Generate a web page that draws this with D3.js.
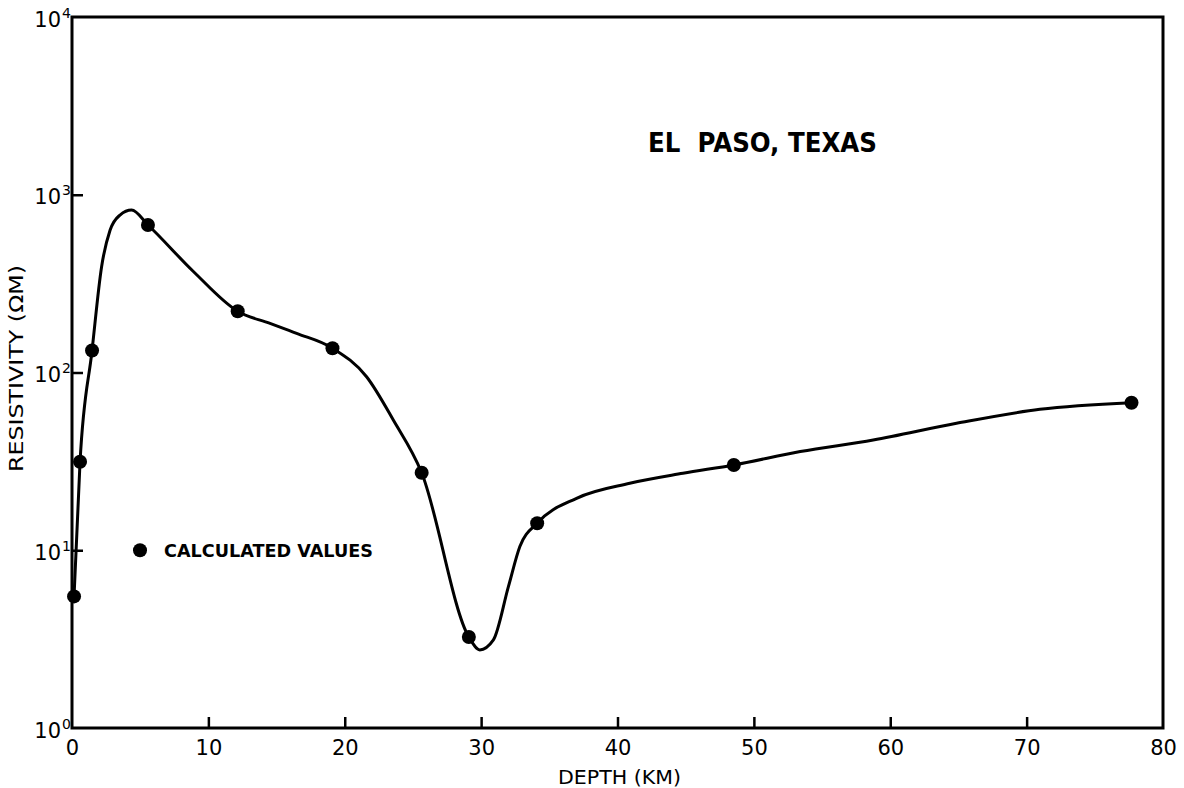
<!DOCTYPE html>
<html>
<head>
<meta charset="utf-8">
<script src="https://cdn.jsdelivr.net/npm/d3@7"></script>
<style>
  html, body { margin: 0; padding: 0; background: #fff; }
  svg { display: block; }
  text { font-family: "DejaVu Sans", sans-serif; fill: #000; }
</style>
</head>
<body>
<svg id="chart" width="1184" height="788"></svg>
<script>
// Calculated values (dots)
const pointDepth = [0.15, 0.59, 1.47, 5.57, 12.15, 19.1, 25.64, 29.1, 34.11, 48.53, 77.69];
const pointRes   = [5.5, 31.5, 133, 676, 221, 137, 27.3, 3.25, 14.2, 30.2, 67.6];

// Hand-drawn interpretive curve
const curveDepth = [0.15, 0.59, 1.47, 2.17, 2.79, 3.52, 4.37, 5.57, 8.9, 12.15, 14.52, 16.47, 19.1, 21.6, 23.56, 25.64, 29.1, 29.9, 30.9, 32.0, 32.84, 34.11, 37.0, 40.9, 44.8, 48.53, 53.4, 58.75, 64.86, 70.97, 77.69];
const curveRes   = [5.5, 31.5, 133, 394, 631, 769, 820, 676, 370, 221, 189, 166, 137, 94.6, 54, 27.3, 3.25, 2.75, 3.13, 6.24, 10.5, 14.2, 19.6, 23.8, 27.1, 30.2, 35.9, 41.7, 51.8, 62.1, 67.6];

const xTicks = [0, 10, 20, 30, 40, 50, 60, 70, 80];
const yTicks = [1, 10, 100, 1000, 10000];
const yExponents = ["0", "1", "2", "3", "4"];

const titleText = "EL  PASO, TEXAS";
const legendText = "CALCULATED VALUES";
const xTitle = "DEPTH (KM)";
const yTitle = "RESISTIVITY (\u03A9M)";

const L = 72, R = 1163, T = 17, B = 728;
const svg = d3.select("#chart");

const x = d3.scaleLinear().domain([0, 80]).range([L, R]);
const y = d3.scaleLog().domain([1, 10000]).range([B, T]);

// Frame
svg.append("rect")
  .attr("x", L).attr("y", T).attr("width", R - L).attr("height", B - T)
  .attr("fill", "none").attr("stroke", "#000").attr("stroke-width", 3);

// X ticks (inward) and labels
const xAxis = d3.axisBottom(x).tickValues(xTicks).tickSize(0).tickPadding(0).tickFormat(d3.format("d"));
const gx = svg.append("g").attr("transform", `translate(0,${B})`).call(xAxis);
gx.select(".domain").remove();
gx.selectAll(".tick text")
  .attr("y", 27).attr("dy", 0)
  .style("font-size", "21px").style("font-family", "DejaVu Sans, sans-serif").attr("fill", "#000");
gx.selectAll(".tick").filter(d => d > 0 && d < 80)
  .append("line").attr("x1", 0).attr("x2", 0).attr("y1", 0).attr("y2", -11)
  .attr("stroke", "#000").attr("stroke-width", 2.5);

// Y ticks (inward) and labels
const yAxis = d3.axisLeft(y).tickValues(yTicks).tickSize(0).tickFormat(() => "");
const gy = svg.append("g").attr("transform", `translate(${L},0)`).call(yAxis);
gy.select(".domain").remove();
gy.selectAll(".tick text").remove();
gy.selectAll(".tick").filter(d => d > 1 && d < 10000)
  .append("line").attr("x1", 0).attr("x2", 11).attr("y1", 0).attr("y2", 0)
  .attr("stroke", "#000").attr("stroke-width", 2.5);
gy.selectAll(".tick").each(function(d, i) {
  const g = d3.select(this);
  g.append("text").attr("x", -11).attr("y", 9).attr("text-anchor", "end")
    .style("font-size", "21px").text("10");
  g.append("text").attr("x", -10).attr("y", 0).attr("text-anchor", "start")
    .style("font-size", "14px").text(yExponents[i]);
});

// Curve
const line = d3.line()
  .x((d, i) => x(curveDepth[i]))
  .y((d, i) => y(curveRes[i]))
  .curve(d3.curveMonotoneX);
svg.append("path")
  .datum(curveDepth)
  .attr("d", line)
  .attr("fill", "none").attr("stroke", "#000").attr("stroke-width", 3)
  .attr("stroke-linejoin", "round").attr("stroke-linecap", "round");

// Dots
svg.append("g").selectAll("circle")
  .data(pointDepth)
  .join("circle")
  .attr("cx", d => x(d))
  .attr("cy", (d, i) => y(pointRes[i]))
  .attr("r", 7)
  .attr("fill", "#000");

// Legend
svg.append("circle").attr("cx", 140).attr("cy", y(10)).attr("r", 7).attr("fill", "#000");
svg.append("text").attr("x", 164).attr("y", y(10) + 7)
  .attr("textLength", 209).attr("lengthAdjust", "spacingAndGlyphs")
  .style("font-size", "18px").style("font-weight", "bold").text(legendText);

// Title
svg.append("text").attr("x", 648).attr("y", 152)
  .attr("textLength", 229).attr("lengthAdjust", "spacingAndGlyphs")
  .style("font-size", "26px").style("font-weight", "bold").style("white-space", "pre")
  .attr("xml:space", "preserve").text(titleText);

// Axis titles
svg.append("text").attr("x", (558 + 681) / 2).attr("y", 784).attr("text-anchor", "middle")
  .attr("textLength", 123).attr("lengthAdjust", "spacingAndGlyphs")
  .style("font-size", "19px").text(xTitle);
svg.append("text")
  .attr("transform", `translate(23,${(265 + 472) / 2}) rotate(-90)`)
  .attr("text-anchor", "middle")
  .attr("textLength", 207).attr("lengthAdjust", "spacingAndGlyphs")
  .style("font-size", "19px").text(yTitle);
</script>
</body>
</html>
